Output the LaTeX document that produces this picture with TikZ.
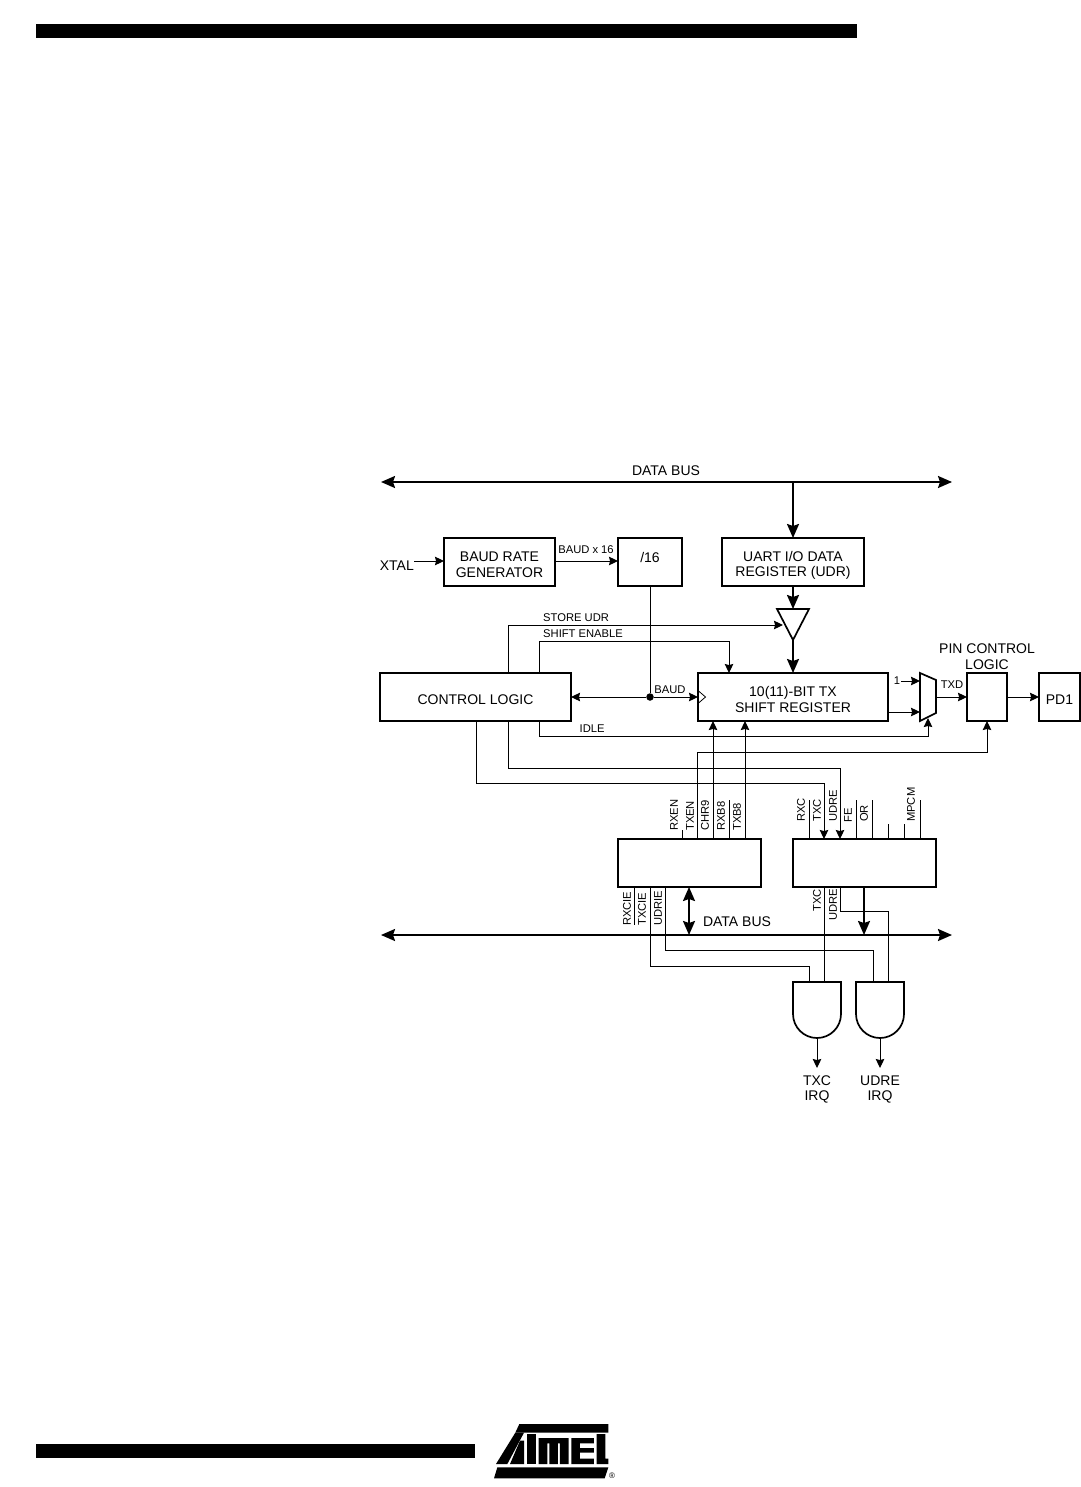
\documentclass[tikz,border=0pt]{standalone}
\usepackage{fontspec}
\setmainfont{Liberation Sans}
\usetikzlibrary{arrows.meta}
\tikzset{
  x=1pt,y=-1pt,
  box/.style={draw=black,line width=1.7pt,rectangle,outer sep=0pt,inner sep=0pt,align=center,font=\fontsize{14}{15.5}\selectfont},
  big/.style={inner sep=0pt,align=center,font=\fontsize{14}{15.5}\selectfont},
  small/.style={inner sep=0pt,font=\fontsize{11.2}{12}\selectfont},
  vert/.style={small,rotate=90,anchor=west},
  wire/.style={draw=black,line width=1pt},
  arr/.style={wire,-{Stealth[length=9pt,width=8.5pt,inset=1pt]}},
  darr/.style={wire,{Stealth[length=9pt,width=8.5pt,inset=1pt]}-{Stealth[length=9pt,width=8.5pt,inset=1pt]}},
  heavy/.style={draw=black,line width=2pt},
  harr/.style={heavy,-{Stealth[length=14pt,width=12pt,inset=2pt]}},
  dharr/.style={heavy,{Stealth[length=14pt,width=12pt,inset=2pt]}-{Stealth[length=14pt,width=12pt,inset=2pt]}},
  sym/.style={draw=black,line width=1.7pt,line join=miter},
  boxtext/.style={yshift=-2.5pt},
}
\begin{document}
\begin{tikzpicture}
\useasboundingbox (0,0) rectangle (1080,1487);
\fill[white] (0,0) rectangle (1080,1487);
% page bars
\fill[black] (36,24) rectangle (857,38);
\fill[black] (36,1444) rectangle (475,1458);
% logo
\begin{scope}[shift={(470,1410)},x=0.3333pt,y=-0.3333pt]
\fill[black] (148,42)--(415,42)--(415,68)--(136,68)--cycle;
\fill[black] (136,68)--(162,68)--(112,162)--(78,162)--cycle;
\fill[black] (150,92)--(162,92)--(162,162)--(120,162)--cycle;
\fill[black] (172,72)--(198,72)--(198,162)--(172,162)--cycle;
\fill[black] (206,84)--(296,84)--(296,162)--(270,162)--(270,100)--(264,100)--(264,162)--(238,162)--(238,100)--(232,100)--(232,162)--(206,162)--cycle;
\fill[black] (304,84)--(372,84)--(372,100)--(330,100)--(330,114)--(372,114)--(372,128)--(330,128)--(330,146)--(372,146)--(372,162)--(304,162)--cycle;
\fill[black] (380,72)--(406,72)--(406,146)--(415,146)--(415,162)--(380,162)--cycle;
\fill[black] (82,172)--(415,172)--(404,205)--(72,205)--cycle;
\end{scope}
\node[inner sep=0pt,font=\fontsize{8}{8}\selectfont] (reg) at (612,1476) {®};
% column helpers
\foreach \n/\v in {a/508,b/539,c/476,d/650,e/729,f/793,g/928,h/987,i/697,j/713,k/745,l/682,m/840,n/824,o/809,p/856,q/872,r/888,s/904,t/920,u/634,v/689,w/864,y/873,z/665}{\coordinate (x\n) at (\v,0);}
\foreach \n/\v in {a/625,b/641,c/736,d/768,e/783,f/752,g/800,h/824,i/830,j/925,k/966,l/950,m/911}{\coordinate (y\n) at (0,\v);}
% blocks
\node[box,minimum width=111pt,minimum height=48pt] (brg) at (499.5,562) {};
\node[big,boxtext] (brgt) at (brg) {BAUD RATE\\GENERATOR};
\node[box,minimum width=64pt,minimum height=48pt] (div) at (650,562) {};
\node[big] (divt) at (650,557) {/16};
\node[box,minimum width=142pt,minimum height=48pt] (udr) at (793,562) {};
\node[big,boxtext,yshift=-1pt] (udrt) at (udr) {UART I/O DATA\\REGISTER (UDR)};
\node[box,minimum width=191pt,minimum height=48pt] (ctl) at (475.5,697) {};
\node[big,boxtext] (ctlt) at (ctl) {CONTROL LOGIC};
\node[box,minimum width=190pt,minimum height=48pt] (shr) at (793,697) {};
\node[big,boxtext] (shrt) at (shr) {10(11)-BIT TX\\SHIFT REGISTER};
\node[box,minimum width=40pt,minimum height=48pt] (pin) at (987,697) {};
\node[box,minimum width=41pt,minimum height=48pt] (pd) at (1059.5,697) {};
\node[big,boxtext] (pdt) at (pd) {PD1};
\node[box,minimum width=143pt,minimum height=48pt] (rega) at (689.5,863) {};
\node[box,minimum width=143pt,minimum height=48pt] (regb) at (864.5,863) {};
% buses
\coordinate (t1l) at (381,482); \coordinate (t1r) at (952,482);
\coordinate (t2l) at (381,935); \coordinate (t2r) at (952,935);
\draw[dharr] (t1l) -- (t1r);
\draw[dharr] (t2l) -- (t2r);
\node[big] (lb1) at (666,471) {DATA BUS};
\node[big] (lb2) at (737,922) {DATA BUS};
\coordinate (t1m) at (793,482);
\draw[harr] (t1m) -- (udr.north);
% buffer
\coordinate (bt) at (793,609); \coordinate (ba) at (793,640);
\draw[sym] (777,609) -- (809,609) -- (ba) -- cycle;
\draw[harr] (udr.south) -- (bt);
\draw[harr] (ba) -- (shr.north -| ba);
% mux
\coordinate (mo) at (936,697); \coordinate (mb) at (928,718);
\draw[sym] (920,673) -- (936,680) -- (936,713) -- (920,721) -- cycle;
% clock mark
\draw[line width=.8pt] (698,690.5) -- (705.5,697) -- (698,703.5);
% XTAL
\node[big,anchor=east] (xtal) at (414,566) {XTAL};
\coordinate (xin) at (414,561);
\draw[arr] (xin) -- (brg.west |- xin);
\coordinate (b16) at (555,561);
\draw[arr] (b16) -- (div.west |- b16);
\node[small] (lb16) at (586,550) {BAUD x 16};
% baud
\node[circle,fill=black,inner sep=0pt,minimum size=7.5pt] (jn) at (650,697) {};
\draw[wire] (div.south) -- (jn);
\draw[arr] (jn) -- (ctl.east);
\draw[arr] (jn) -- (shr.west);
\node[small] (lbb) at (670,689.5) {BAUD};
% store udr / shift enable / idle
\coordinate (st) at (783,625);
\draw[arr] (ctl.north -| xa) -- (xa |- ya) -- (st);
\node[small,anchor=west] at (543,617.5) (l1) {STORE UDR};
\draw[arr] (ctl.north -| xb) -- (xb |- yb) -- (xe |- yb) -- (shr.north -| xe);
\node[small,anchor=west] at (543,633.5) (l2) {SHIFT ENABLE};
\draw[arr] (ctl.south -| xb) -- (xb |- yc) -- (xg |- yc) -- (mb);
\node[small,anchor=west] at (579.5,729) (l3) {IDLE};
% to status register
\draw[arr] (ctl.south -| xa) -- (xa |- yd) -- (xm |- yd) -- (regb.north -| xm);
\draw[arr] (ctl.south -| xc) -- (xc |- ye) -- (xn |- ye) -- (regb.north -| xn);
% control register tops
\draw[arr] (rega.north -| xi) -- (xi |- yf) -- (xh |- yf) -- (pin.south);
\draw[arr] (rega.north -| xj) -- (shr.south -| xj);
\draw[arr] (rega.north -| xk) -- (shr.south -| xk);
\draw[wire] (rega.north -| xl) -- (xl |- yi);
\draw[wire] (rega.north -| xe) -- (xe |- yg);
\draw[wire] (regb.north -| xo) -- (xo |- yg);
\draw[wire] (regb.north -| xp) -- (xp |- yg);
\draw[wire] (regb.north -| xq) -- (xq |- yg);
\draw[wire] (regb.north -| xr) -- (xr |- yh);
\draw[wire] (regb.north -| xs) -- (xs |- yh);
\draw[wire] (regb.north -| xt) -- (xt |- yg);
\node[vert] (v1) at (674,831) {RXEN};
\node[vert] (v2) at (690,831) {TXEN};
\node[vert] (v3) at (705,831) {CHR9};
\node[vert] (v4) at (721,831) {RXB8};
\node[vert] (v5) at (737,831) {TXB8};
\node[vert] (v6) at (801,822) {RXC};
\node[vert] (v7) at (817,822) {TXC};
\node[vert] (v8) at (833,822) {UDRE};
\node[vert] (v9) at (848,823) {FE};
\node[vert] (v10) at (864,822) {OR};
\node[vert] (v11) at (911,822) {MPCM};
\node[vert] (v12) at (627,926) {RXCIE};
\node[vert] (v13) at (642,926) {TXCIE};
\node[vert] (v14) at (658,926) {UDRIE};
\node[vert] (v15) at (817,912) {TXC};
\node[vert] (v16) at (833,921) {UDRE};
% gates
\coordinate (g1a) at (809,982); \coordinate (g1b) at (824,982); \coordinate (g1o) at (817,1038);
\coordinate (g2a) at (873,982); \coordinate (g2b) at (888,982); \coordinate (g2o) at (880,1038);
\draw[sym] (793,982) -- (841,982) -- (841,1014) arc[start angle=0,end angle=-180,radius=24pt] -- cycle;
\draw[sym] (856,982) -- (904,982) -- (904,1014) arc[start angle=0,end angle=-180,radius=24pt] -- cycle;
\coordinate (q1) at (817,1068); \coordinate (q2) at (880,1068);
\draw[arr] (g1o) -- (q1);
\draw[arr] (g2o) -- (q2);
\node[big] (o1) at (817,1089.5) {TXC\\IRQ};
\node[big] (o2) at (880,1089.5) {UDRE\\IRQ};
% register bottoms
\draw[wire] (rega.south -| xu) -- (xu |- yj);
\draw[wire] (rega.south -| xd) -- (xd |- yk) -- (xo |- yk) -- (g1a);
\draw[wire] (rega.south -| xz) -- (xz |- yl) -- (xy |- yl) -- (g2a);
\draw[wire] (regb.south -| xn) -- (g1b);
\draw[wire] (regb.south -| xm) -- (xm |- ym) -- (xr |- ym) -- (g2b);
\draw[dharr] (rega.south -| xv) -- (xv |- t2l);
\draw[harr] (regb.south -| xw) -- (xw |- t2l);
% mux inputs / outputs
\node[small] (one) at (897,681) {1};
\coordinate (oe) at (901,681); \coordinate (oi) at (920,681);
\draw[arr] (oe) -- (oi);
\coordinate (si) at (888,712); \coordinate (sj) at (920,712);
\draw[arr] (si) -- (sj);
\draw[arr] (mo) -- (pin.west);
\node[small] (txd) at (952,685) {TXD};
\draw[arr] (pin.east) -- (pd.west);
\node[big] (pcl) at (987,656.5) {PIN CONTROL\\LOGIC};
\end{tikzpicture}
\end{document}
